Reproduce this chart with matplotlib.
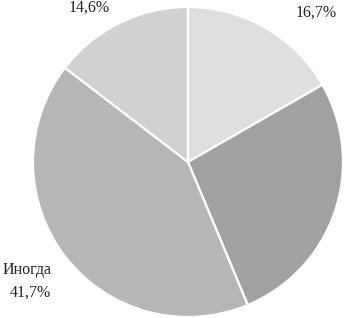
import matplotlib.pyplot as plt

# slices clockwise from 12 o'clock
values = [16.7, 27.0, 41.7, 14.6]
colors = ["#dedede", "#a1a1a1", "#b6b6b6", "#d1d1d1"]
label_texts = ["16,7%", "Иногда", "41,7%", "14,6%"]

W, H = 344, 318
CX, CY, R = 188, 162, 155


def to_data(px, py):
    return (px - CX) / R, (CY - py) / R


fig = plt.figure(figsize=(W / 100, H / 100), dpi=100)
ax = fig.add_axes([0, 0, 1, 1])

ax.pie(
    values,
    colors=colors,
    startangle=90,
    counterclock=False,
    wedgeprops=dict(edgecolor="white", linewidth=1.6),
)

ax.set_aspect("auto")
x0, y1 = to_data(0, 0)
x1, y0 = to_data(W, H)
ax.set_xlim(x0, x1)
ax.set_ylim(y0, y1)
ax.axis("off")

# label pixel positions in the picture
label_pos = [(316, 13), (27, 270), (30, 293), (89, 8)]
for text, (px, py) in zip(label_texts, label_pos):
    x, y = to_data(px, py)
    ax.text(x, y, text, ha="center", va="center",
            fontsize=11.5, family="Liberation Serif", color="#222222")

fig.savefig("out.png", dpi=100)
